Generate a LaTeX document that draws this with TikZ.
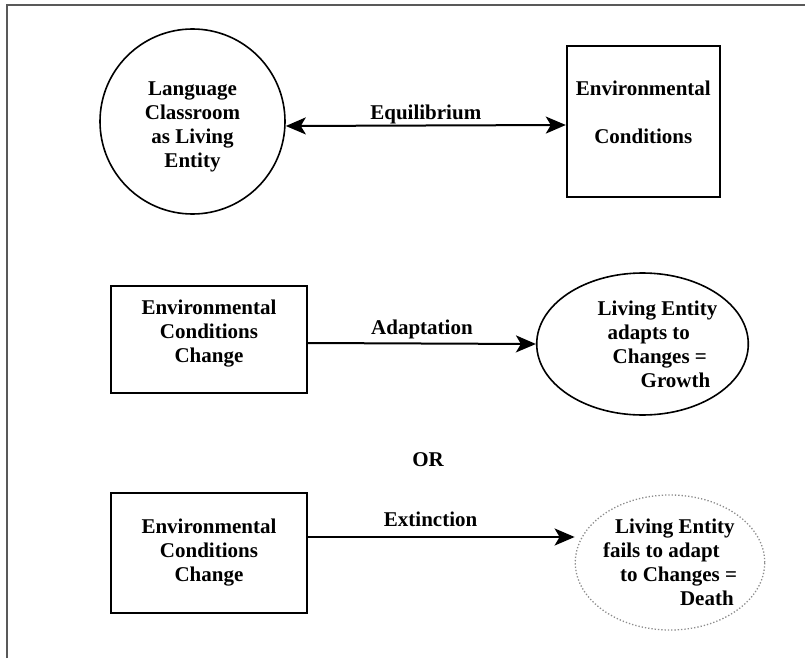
\documentclass[tikz,border=0pt]{standalone}
\usepackage{fontspec}
\setmainfont{Liberation Serif}
\usetikzlibrary{positioning,shapes.geometric,arrows.meta}

\begin{document}
\begin{tikzpicture}[x=1pt, y=-1pt,
			>={Stealth[length=20pt, width=17pt, inset=5pt]},
			every node/.style={font=\fontsize{21}{24}\selectfont\bfseries},
			envbox/.style={rectangle, draw=black, line width=2pt, align=center, inner sep=0pt},
			living/.style={circle, draw=black, line width=1.6pt, align=center, inner sep=0pt},
			entity/.style={ellipse, draw=black, line width=1.6pt, align=left, inner sep=0pt},
			dying/.style={ellipse, draw=black!45, line width=1.3pt, dash pattern=on 1.3pt off 2pt, align=left, inner sep=0pt},
			lbl/.style={inner sep=1pt}]
			\useasboundingbox (0,0) rectangle (805,658);
			\draw[black!65, line width=1.5pt] (7,658) -- (7,5) -- (805,5);
			% equilibrium
			\node[living, minimum size=185pt] (classroom) at (192.5,121.5) {\mbox{}\\[1pt]Language\\Classroom\\as Living\\Entity};
			\node[envbox, minimum width=153pt, minimum height=151pt] (cond) [right=280pt of classroom] {Environmental\\[24pt]Conditions\\[-5pt]\mbox{}};
			% adaptation
			\node[envbox, minimum width=196pt, minimum height=107pt] (change1) at (209,339.5) {Environmental\\Conditions\\Change\\[-7pt]\mbox{}};
			\node[entity, minimum width=151pt, minimum height=142pt] (growth) at (642.5,344) {\hspace*{30pt}Living Entity\\\hspace*{40pt}adapts to\\\hspace*{45pt}Changes =\\\hspace*{73pt}Growth};
			\node (or) at (428,460) {OR};
			% extinction
			\node[envbox, minimum width=196pt, minimum height=120pt] (change2) at (209,553) {Environmental\\Conditions\\Change};
			\node[dying, minimum width=186pt, minimum height=135pt] (death) at (670,562.5) {\hspace*{12pt}Living Entity\\fails to adapt\\\hspace*{17pt}to Changes =\\\hspace*{77pt}Death};
			\begin{scope}[line width=2pt]
				\draw[<->] ([yshift=-4.5pt]classroom.east) -- node[lbl, above] (equil) {Equilibrium} ([yshift=-3.5pt]cond.west);
				\draw[->] ([yshift=-3.5pt]change1.east) -- node[lbl, above=3pt] (adapt) {Adaptation} (growth.west);
				\draw[->] ([yshift=16pt]change2.east) -- node[lbl, above=8pt, pos=0.46] (extinct) {Extinction} ([yshift=25.5pt]death.west);
			\end{scope}
		\end{tikzpicture}
\end{document}
